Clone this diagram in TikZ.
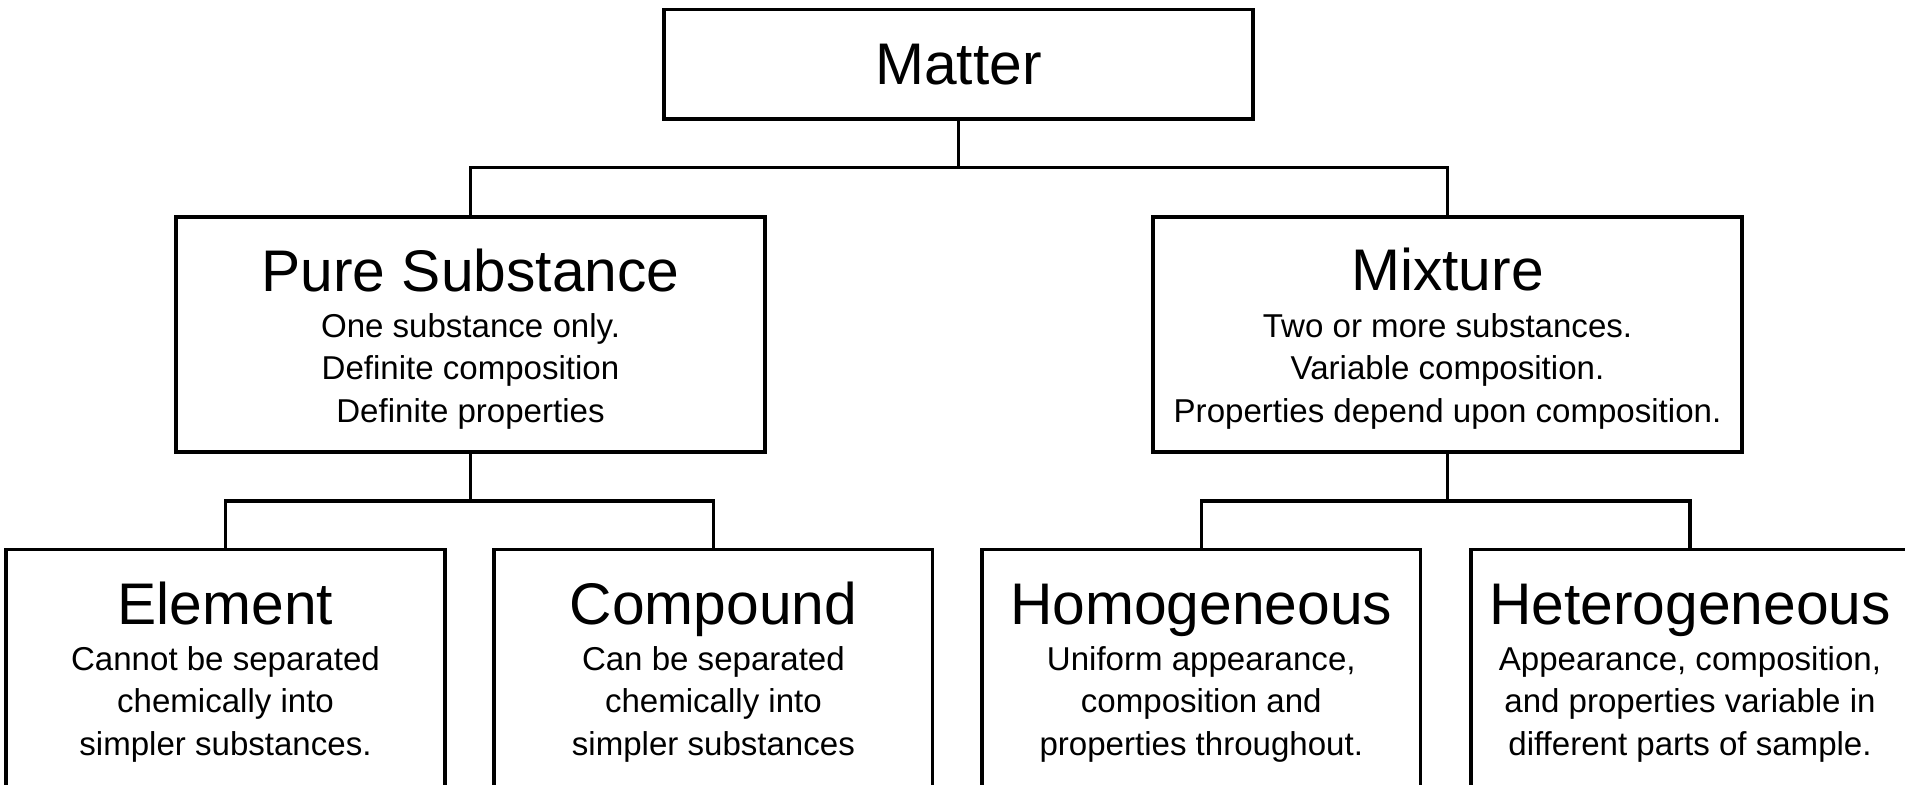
\documentclass[tikz,border=0pt]{standalone}
\usepackage{fontspec}
\setmainfont{Liberation Sans}
\usetikzlibrary{positioning}
\tikzset{
	box/.style={draw=black,line width=1.1pt,rectangle,inner sep=0pt,anchor=north},
	bigbox/.style={box,minimum width=5.89cm},
	smallbox/.style={box,minimum width=4.38cm,minimum height=3cm},
	head/.style={font=\fontsize{16.7}{20}\selectfont,anchor=base,inner sep=0pt},
	note/.style={font=\fontsize{9.4}{11.95}\selectfont,align=center,anchor=base,inner sep=0pt},
	link/.style={draw=black,line width=0.95pt}
}
\begin{document}
\begin{tikzpicture}[x=0.01cm,y=-0.01cm]
	\useasboundingbox (0,0) rectangle (1905,784);
	\begin{scope}
		\node[bigbox,minimum height=1.095cm] (matter) at (958.5,7.5) {};
		\node[bigbox,minimum height=2.35cm] (pure) at (470.5,215) {};
		\node[bigbox,minimum height=2.35cm] (mixture) at (1447.5,215) {};
		\node[smallbox] (element) at (225.5,547.5) {};
		\node[smallbox] (compound) at (713.4,547.5) {};
		\node[smallbox] (homog) at (1201.3,547.5) {};
		\node[smallbox] (heterog) at (1690,547.5) {};
	\end{scope}
	
	\node[head] (matterT) at (958.5,84) {Matter};
	\node[head] (pureT) at (470.5,291) {Pure Substance};
	\node[note] (pureN) at (470.5,422) {One substance only.\\Definite composition\\Definite properties};
	\node[head] (mixtureT) at (1447.5,290) {Mixture};
	\node[note] (mixtureN) at (1447.5,422) {Two or more substances.\\Variable composition.\\Properties depend upon composition.};
	\node[head] (elementT) at (225.5,624) {Element};
	\node[note] (elementN) at (225.5,755) {Cannot be separated\\chemically into\\simpler substances.};
	\node[head] (compoundT) at (713.4,624) {Compound};
	\node[note] (compoundN) at (713.4,755) {Can be separated\\chemically into\\simpler substances};
	\node[head] (homogT) at (1201.3,624) {Homogeneous};
	\node[note] (homogN) at (1201.3,755) {Uniform appearance,\\composition and\\properties throughout.};
	\node[head] (heterogT) at (1690,624) {Heterogeneous};
	\node[note] (heterogN) at (1690,755) {Appearance, composition,\\and properties variable in\\different parts of sample.};
	
	\coordinate (busTop) at (958.5,167.5);
	\coordinate (busPure) at (470.5,501);
	\coordinate (busMix) at (1447.5,501);
	\begin{scope}[every path/.style={link}]
		\draw (matter) -- (busTop) -| (pure);
		\draw (busTop) -| (mixture);
		\draw (pure) -- (busPure) -| (element);
		\draw (busPure) -| (compound);
		\draw (mixture) -- (busMix) -| (homog);
		\draw (busMix) -| (heterog);
	\end{scope}
\end{tikzpicture}
\end{document}
